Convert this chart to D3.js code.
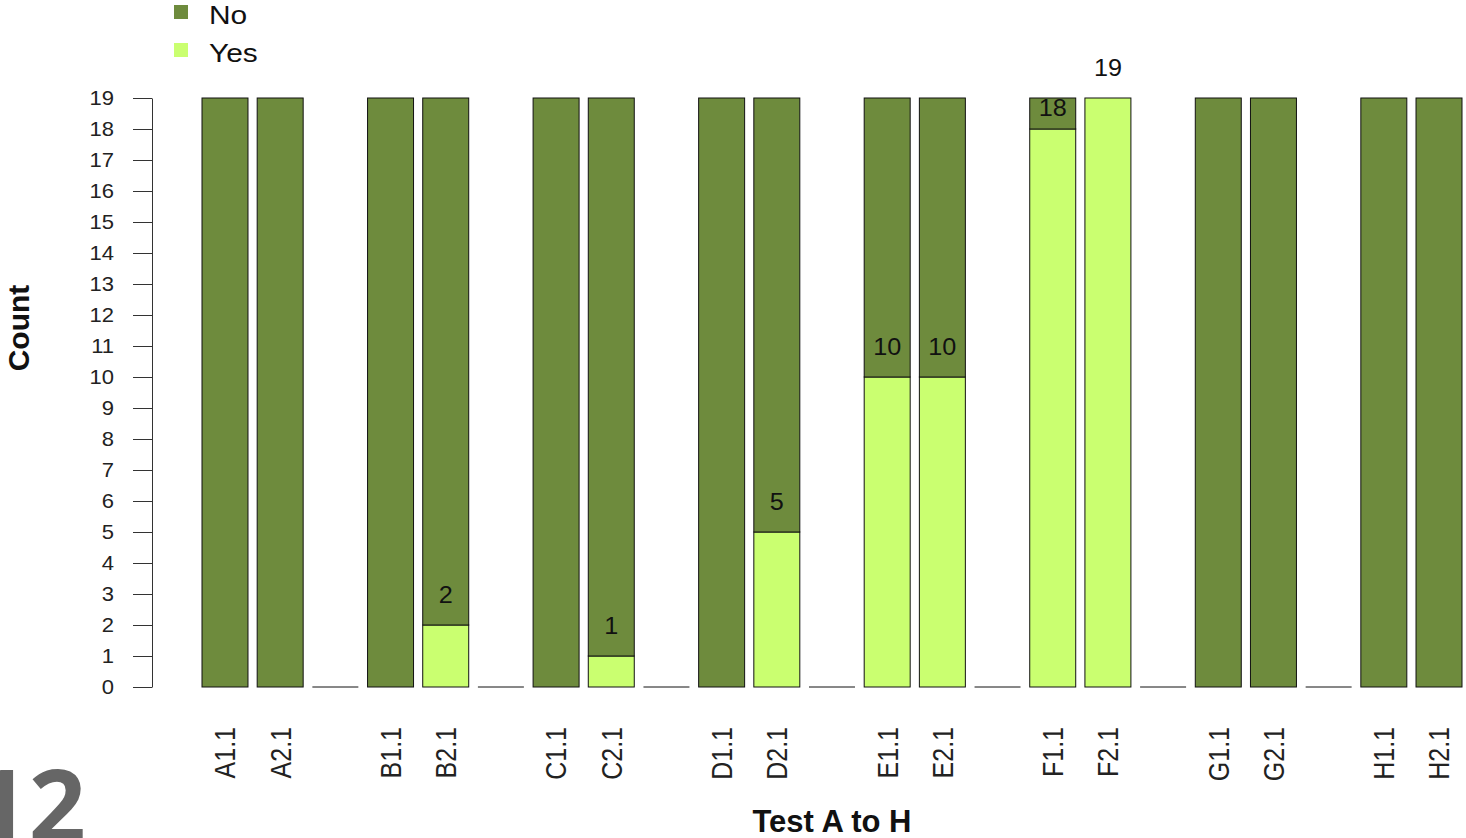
<!DOCTYPE html>
<html>
<head>
<meta charset="utf-8">
<script src="https://cdn.jsdelivr.net/npm/d3@7"></script>
<style>
  html, body { margin: 0; padding: 0; background: #fff; }
  svg { display: block; font-family: "Liberation Sans", Arial, sans-serif; }
</style>
</head>
<body>
<svg id="chart" width="1466" height="838"></svg>
<script>
// ---- data ----
const categories = ["A1.1","A2.1","","B1.1","B2.1","","C1.1","C2.1","","D1.1","D2.1","","E1.1","E2.1","","F1.1","F2.1","","G1.1","G2.1","","H1.1","H2.1"];
const yesValues  = [0,0,null,0,2,null,0,1,null,0,5,null,10,10,null,18,19,null,0,0,null,0,0];
const noValues   = [19,19,null,19,17,null,19,18,null,19,14,null,9,9,null,1,0,null,19,19,null,19,19];
const labelPos   = [null,null,null,null,3,null,null,2,null,null,6,null,11,11,null,18.7,20,null,null,null,null,null,null];
const yTicks     = [0,1,2,3,4,5,6,7,8,9,10,11,12,13,14,15,16,17,18,19];
const seriesNames = ["No","Yes"];
const seriesColors = ["#6E8B3D","#CAFF70"];

const svg = d3.select("#chart");

const x = d3.scaleBand()
  .domain(d3.range(categories.length))
  .range([202, 1462])
  .paddingInner(0.2 / 1.2)
  .paddingOuter(0);

const y = d3.scaleLinear().domain([0, 19]).range([687, 98]);

// y axis
const yAxis = svg.append("g")
  .attr("transform", "translate(152,0)")
  .call(d3.axisLeft(y).tickValues(yTicks).tickSize(19).tickSizeOuter(0).tickPadding(19).tickFormat(d3.format("d")));
yAxis.select(".domain").attr("stroke", "#333");
yAxis.selectAll(".tick line").attr("stroke", "#333");
yAxis.selectAll(".tick text")
  .attr("x", null)
  .attr("transform", "translate(-38,0) scale(1.1,1)")
  .attr("font-size", 20)
  .attr("fill", "#222")
  .attr("font-family", "'Liberation Sans', Arial, sans-serif");

// bars
const idx = d3.range(categories.length);
const barG = svg.append("g");
idx.forEach(i => {
  const x0 = x(i), w = x.bandwidth();
  if (yesValues[i] === null) {
    barG.append("line")
      .attr("x1", x0).attr("x2", x0 + w)
      .attr("y1", y(0)).attr("y2", y(0))
      .attr("stroke", "#111").attr("stroke-width", 1);
    return;
  }
  const yes = yesValues[i], no = noValues[i];
  if (yes > 0) {
    barG.append("rect")
      .attr("x", x0).attr("width", w)
      .attr("y", y(yes)).attr("height", y(0) - y(yes))
      .attr("fill", seriesColors[1]).attr("stroke", "#111").attr("stroke-width", 1);
  }
  if (no > 0) {
    barG.append("rect")
      .attr("x", x0).attr("width", w)
      .attr("y", y(yes + no)).attr("height", y(yes) - y(yes + no))
      .attr("fill", seriesColors[0]).attr("stroke", "#111").attr("stroke-width", 1);
  }
});

// value labels
idx.forEach(i => {
  if (labelPos[i] === null) return;
  svg.append("text")
    .attr("transform", `translate(${x(i) + x.bandwidth() / 2},${y(labelPos[i])}) scale(1.05,1)`)
    .attr("dy", "0.36em")
    .attr("text-anchor", "middle")
    .attr("font-size", 24)
    .attr("fill", "#111")
    .text(yesValues[i]);
});

// x labels
idx.forEach(i => {
  if (!categories[i]) return;
  svg.append("text")
    .attr("transform", `translate(${x(i) + x.bandwidth() / 2},727) rotate(-90) scale(1,1.15)`)
    .attr("dy", "0.36em")
    .attr("text-anchor", "end")
    .attr("font-size", 25)
    .attr("fill", "#222")
    .text(categories[i]);
});

// axis titles
svg.append("text")
  .attr("transform", "translate(18,328) rotate(-90)")
  .attr("dy", "0.36em")
  .attr("text-anchor", "middle")
  .attr("font-size", 30)
  .attr("font-weight", "bold")
  .attr("fill", "#111")
  .text("Count");

svg.append("text")
  .attr("x", 832).attr("y", 832)
  .attr("text-anchor", "middle")
  .attr("font-size", 31)
  .attr("font-weight", "bold")
  .attr("fill", "#111")
  .text("Test A to H");

// legend
seriesNames.forEach((name, k) => {
  const ly = 5 + k * 38;
  svg.append("rect")
    .attr("x", 174).attr("y", ly).attr("width", 14).attr("height", 14)
    .attr("fill", seriesColors[k]);
  svg.append("text")
    .attr("transform", `translate(209,${ly + 19}) scale(1.15,1)`)
    .attr("font-size", 26)
    .attr("fill", "#111")
    .text(name);
});

// slide number
svg.append("text")
  .attr("x", 86).attr("y", 842)
  .attr("text-anchor", "end")
  .attr("font-size", 100)
  .attr("font-weight", "bold")
  .attr("font-family", "'Open Sans', sans-serif")
  .attr("fill", "#666")
  .text("12");
</script>
</body>
</html>
